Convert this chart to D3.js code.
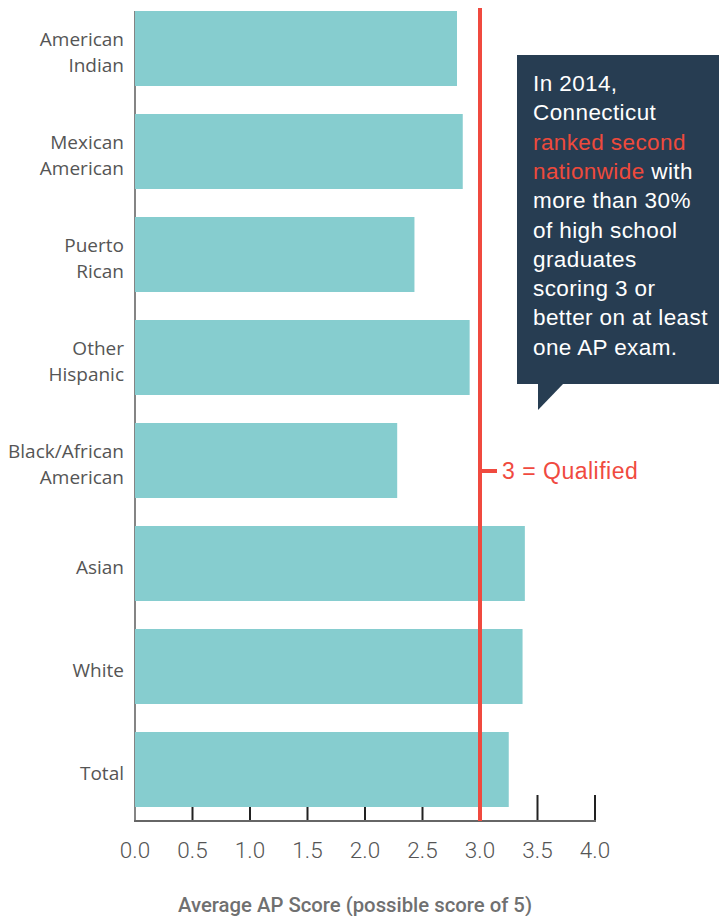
<!DOCTYPE html>
<html>
<head>
<meta charset="utf-8">
<script src="https://cdn.jsdelivr.net/npm/d3@7"></script>
<style>
  html, body { margin: 0; padding: 0; background: #fff; }
  svg { display: block; }
</style>
</head>
<body>
<script>
// Average AP score by race/ethnicity
const categories = [
  ["American", "Indian"],
  ["Mexican", "American"],
  ["Puerto", "Rican"],
  ["Other", "Hispanic"],
  ["Black/African", "American"],
  ["Asian"],
  ["White"],
  ["Total"]
];
const scores = [2.80, 2.85, 2.43, 2.91, 2.28, 3.39, 3.37, 3.25];
const xTicks = [0, 0.5, 1.0, 1.5, 2.0, 2.5, 3.0, 3.5, 4.0];
const qualifiedScore = 3;
const qualifiedLabel = "3 = Qualified";
const axisTitle = "Average AP Score (possible score of 5)";
const calloutLines = [
  [["In 2014,", false]],
  [["Connecticut", false]],
  [["ranked second", true]],
  [["nationwide", true], [" with", false]],
  [["more than 30%", false]],
  [["of high school", false]],
  [["graduates", false]],
  [["scoring 3 or", false]],
  [["better on at least", false]],
  [["one AP exam.", false]]
];

const W = 719, H = 916;
const svg = d3.select("body").append("svg").attr("width", W).attr("height", H);

const x = d3.scaleLinear().domain([0, 4]).range([135, 595]);
const y = d3.scaleBand()
  .domain(d3.range(categories.length))
  .range([-3, 821])
  .paddingInner(0.272)
  .paddingOuter(0.136);

// Tick marks rise from the baseline, sitting behind the bars
const ticksG = svg.append("g");
ticksG.selectAll("line").data(xTicks.slice(1)).join("line")
  .attr("x1", d => x(d)).attr("x2", d => x(d))
  .attr("y1", 795).attr("y2", 821)
  .attr("stroke", "#222").attr("stroke-width", 2);

// Left axis line
svg.append("line")
  .attr("x1", x(0)).attr("x2", x(0))
  .attr("y1", y(0)).attr("y2", 821)
  .attr("stroke", "#666").attr("stroke-width", 1.6);

// Bars
svg.append("g").selectAll("rect").data(scores).join("rect")
  .attr("x", x(0))
  .attr("y", (d, i) => y(i))
  .attr("width", d => x(d) - x(0))
  .attr("height", y.bandwidth())
  .attr("fill", "#86cdcf");

// Bottom axis line
svg.append("line")
  .attr("x1", x(0) - 1).attr("x2", x(4) + 1)
  .attr("y1", 821).attr("y2", 821)
  .attr("stroke", "#666").attr("stroke-width", 2);

// Tick labels
svg.append("g").selectAll("text").data(xTicks).join("text")
  .attr("x", d => x(d))
  .attr("y", 858)
  .attr("text-anchor", "middle")
  .attr("font-family", "Roboto, 'Liberation Sans', sans-serif")
  .attr("font-weight", 300)
  .attr("font-size", 22.5)
  .attr("fill", "#555")
  .text(d => d3.format(".1f")(d));

// Axis title
svg.append("text")
  .attr("x", 355).attr("y", 912)
  .attr("text-anchor", "middle")
  .attr("font-family", "Roboto, 'Liberation Sans', sans-serif")
  .attr("font-weight", 500)
  .attr("font-size", 20)
  .attr("fill", "#707070")
  .attr("textLength", 354)
  .attr("lengthAdjust", "spacingAndGlyphs")
  .text(axisTitle);

// Category labels
const labG = svg.append("g")
  .attr("font-family", "'Open Sans', 'Noto Sans', sans-serif")
  .attr("font-size", 19)
  .attr("fill", "#555")
  .attr("text-anchor", "end");
categories.forEach((lines, i) => {
  const cy = y(i) + y.bandwidth() / 2;
  const t = labG.append("text").attr("x", 124);
  const first = cy + 10.5 - (lines.length - 1) * 13;
  lines.forEach((ln, j) => {
    t.append("tspan").attr("x", 124).attr("y", first + j * 26).text(ln);
  });
});

// Qualified reference line
const red = "#f04a3f";
svg.append("line")
  .attr("x1", x(qualifiedScore)).attr("x2", x(qualifiedScore))
  .attr("y1", 8).attr("y2", 821)
  .attr("stroke", red).attr("stroke-width", 4);
svg.append("line")
  .attr("x1", x(qualifiedScore)).attr("x2", x(qualifiedScore) + 17)
  .attr("y1", 471).attr("y2", 471)
  .attr("stroke", red).attr("stroke-width", 4);
svg.append("text")
  .attr("x", x(qualifiedScore) + 22).attr("y", 479)
  .attr("font-family", "'Liberation Sans', Arial, sans-serif")
  .attr("font-size", 23)
  .attr("letter-spacing", 0.5)
  .attr("fill", red)
  .text(qualifiedLabel);

// Callout box
const navy = "#273d52";
svg.append("rect")
  .attr("x", 517).attr("y", 55).attr("width", W - 517 + 5).attr("height", 329)
  .attr("fill", navy);
svg.append("path")
  .attr("d", "M538,383 L564,383 L538,410 Z")
  .attr("fill", navy);
const callG = svg.append("g")
  .attr("font-family", "'Liberation Sans', Arial, sans-serif")
  .attr("font-size", 22.5)
  .attr("letter-spacing", 0.4);
calloutLines.forEach((parts, i) => {
  const t = callG.append("text").attr("x", 533).attr("y", 91 + i * 29.3);
  parts.forEach(([s, hl]) => {
    t.append("tspan").attr("fill", hl ? "#ee4a3c" : "#fff").text(s);
  });
});
</script>
</body>
</html>
